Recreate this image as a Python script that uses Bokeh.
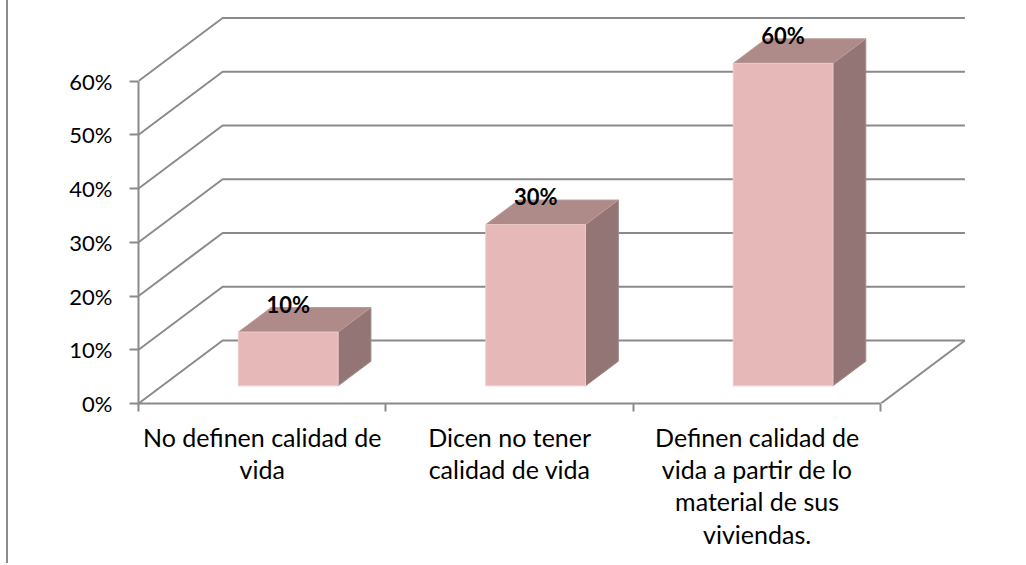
from bokeh.plotting import figure
from bokeh.models import FixedTicker, PrintfTickFormatter, Range1d, ColumnDataSource
from bokeh.core.properties import value
from bokeh.embed import file_html
from bokeh.resources import INLINE

# ---- data ----
categories = [
    "No definen calidad de\nvida",
    "Dicen no tener\ncalidad de vida",
    "Definen calidad de\nvida a partir de lo\nmaterial de sus\nviviendas.",
]
values = [10, 30, 60]
value_labels = ["10%", "30%", "60%"]
y_ticks = [0, 10, 20, 30, 40, 50, 60]

# ---- 3D layout constants (data units) ----
DX = 0.34      # depth offset along x (category units)
DY = 11.73     # depth offset along y (percent units)
F0, F1 = 0.28, 0.67   # bar front/back depth fractions
BAR_W = 0.403
BAR_C = 0.51
GRID = "#8a8a8a"
FRONT = "#e6b8b7"
TOP = "#ae8b89"
SIDE = "#927574"

p = figure(frame_width=866, frame_height=395,
           x_range=Range1d(0, 3.5), y_range=Range1d(0, 73.5),
           output_backend="svg", toolbar_location=None,
           min_border_left=130, min_border_right=10,
           min_border_top=8, min_border_bottom=160)
p.styles = {"border-left": "2px solid #8c8c8c", "margin-left": "6px"}
p.outline_line_color = None
p.xgrid.visible = False
p.ygrid.visible = False
p.background_fill_color = "white"
p.border_fill_color = "white"

n_cat = len(categories)

# back wall gridlines with diagonal side wall
gx = [[0, DX, n_cat + DX] for v in y_ticks]
gy = [[v, v + DY, v + DY] for v in y_ticks]
p.multi_line(gx, gy, line_color=GRID, line_width=2)
# floor right edge
p.line([n_cat, n_cat + DX], [0, DY], line_color=GRID, line_width=2)

# bars
front_l, front_r, front_b, front_t = [], [], [], []
top_xs, top_ys, side_xs, side_ys = [], [], [], []
lab_x, lab_y = [], []
for i, v in enumerate(values):
    c = i + BAR_C
    L = c - BAR_W / 2
    R = c + BAR_W / 2
    front_l.append(L + F0 * DX)
    front_r.append(R + F0 * DX)
    front_b.append(F0 * DY)
    front_t.append(v + F0 * DY)
    top_xs.append([L + F0 * DX, R + F0 * DX, R + F1 * DX, L + F1 * DX])
    top_ys.append([v + F0 * DY, v + F0 * DY, v + F1 * DY, v + F1 * DY])
    side_xs.append([R + F0 * DX, R + F1 * DX, R + F1 * DX, R + F0 * DX])
    side_ys.append([F0 * DY, F1 * DY, v + F1 * DY, v + F0 * DY])
    lab_x.append(c + F0 * DX)
    lab_y.append(v + F1 * DY + 0.6)

p.patches(side_xs, side_ys, fill_color=SIDE, line_color="#a08988", line_width=1)
p.patches(top_xs, top_ys, fill_color=TOP, line_color="#bb9a98", line_width=1)
p.quad(left=front_l, right=front_r, bottom=front_b, top=front_t,
       fill_color=FRONT, line_color="#eccbca", line_width=1)

src = ColumnDataSource(dict(x=lab_x, y=lab_y, t=value_labels))
p.text(x="x", y="y", text="t", source=src, text_font=value("Lato"),
       text_font_style="bold", text_font_size="22px", text_color="black",
       text_align="center", text_baseline="middle")

# y axis
ya = p.yaxis[0]
ya.ticker = FixedTicker(ticks=y_ticks)
ya.formatter = PrintfTickFormatter(format="%d%%")
ya.bounds = (0, 60)
ya.axis_line_color = GRID
ya.axis_line_width = 2
ya.major_tick_line_color = GRID
ya.major_tick_line_width = 2
ya.major_tick_out = 9
ya.major_tick_in = 0
ya.minor_tick_line_color = None
ya.major_label_text_font = "Lato"
ya.major_label_text_font_size = "22px"
ya.major_label_text_color = "black"
ya.major_label_standoff = 17

# x axis
xa = p.xaxis[0]
xa.ticker = FixedTicker(ticks=[i + 0.5 for i in range(n_cat)],
                        minor_ticks=list(range(n_cat + 1)))
xa.major_label_overrides = {i + 0.5: c for i, c in enumerate(categories)}
xa.bounds = (0, n_cat)
xa.axis_line_color = GRID
xa.axis_line_width = 2
xa.major_tick_out = 0
xa.major_tick_in = 0
xa.major_tick_line_color = None
xa.minor_tick_line_color = GRID
xa.minor_tick_line_width = 2
xa.minor_tick_out = 8
xa.minor_tick_in = 0
xa.major_label_text_font = "Lato"
xa.major_label_text_font_size = "25px"
xa.major_label_text_color = "black"
xa.major_label_text_line_height = 1.08
xa.major_label_standoff = 10

open("out.html", "w").write(file_html(p, INLINE))
